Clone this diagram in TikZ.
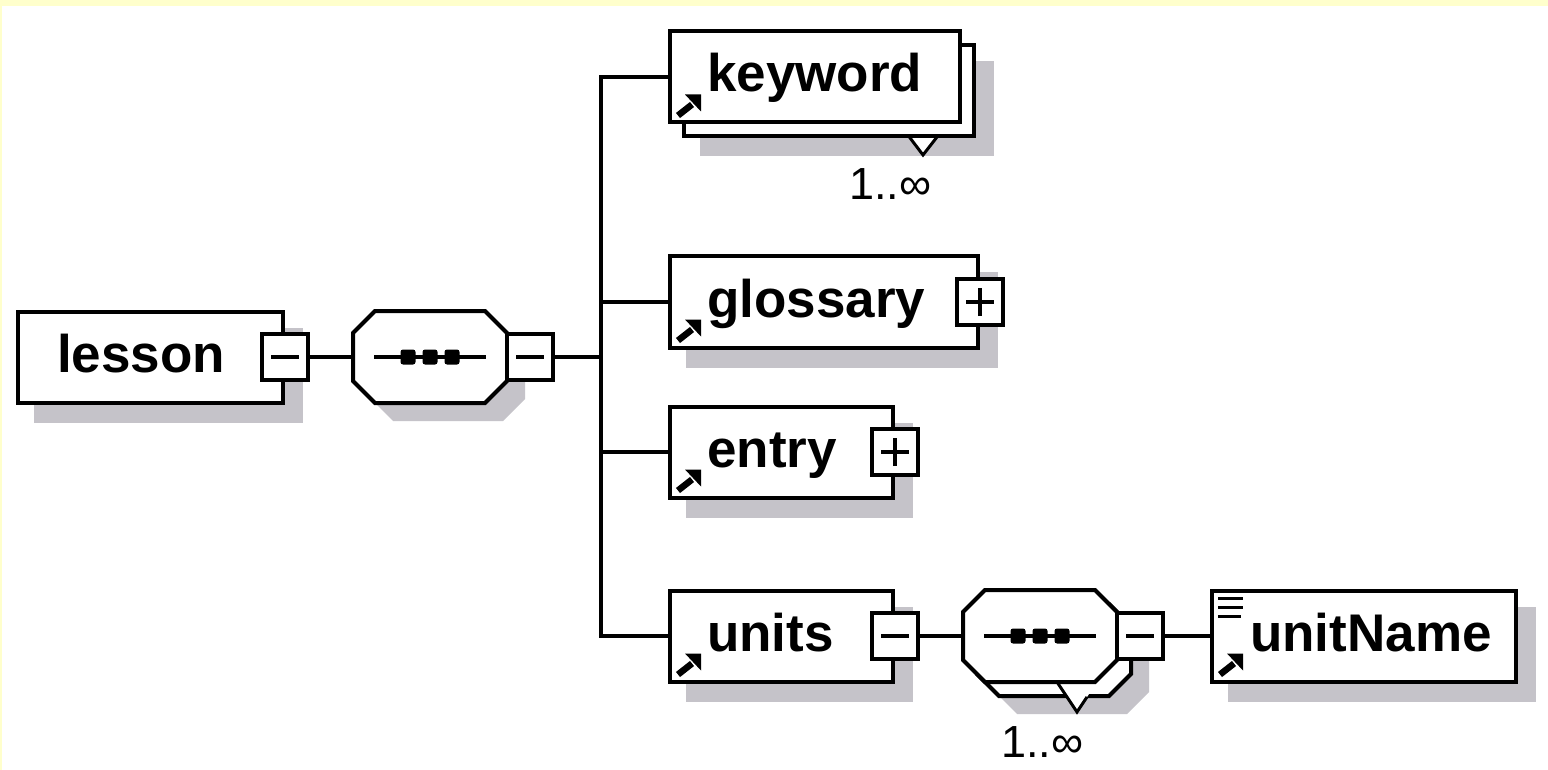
\documentclass[tikz,border=0pt]{standalone}
\usepackage{fontspec}
\setmainfont{Liberation Sans}
\definecolor{shadowgray}{RGB}{197,195,201}
\definecolor{paper}{RGB}{255,255,204}
\pgfdeclarelayer{bg}
\pgfdeclarelayer{shadowlayer}
\pgfdeclarelayer{backlayer}
\pgfsetlayers{bg,shadowlayer,backlayer,main}

% drop shadow behind a rectangular node
\newcommand\dropshadow[2]{%
  \begin{pgfonlayer}{shadowlayer}
    \fill[shadowgray] ([shift={(#2,#2)}]#1.north west) rectangle ([shift={(#2,#2)}]#1.south east);
  \end{pgfonlayer}}
% octagon outline of a sequence compositor, offset by (#2,#3)
\newcommand\octpath[3]{([shift={({#2-55},{#3-46})}]#1.center) -- ([shift={({#2+55},{#3-46})}]#1.center) -- ([shift={({#2+77},{#3-24})}]#1.center) -- ([shift={({#2+77},{#3+24})}]#1.center) -- ([shift={({#2+55},{#3+46})}]#1.center) -- ([shift={({#2-55},{#3+46})}]#1.center) -- ([shift={({#2-77},{#3+24})}]#1.center) -- ([shift={({#2-77},{#3-24})}]#1.center) -- cycle}
% the "sequence" glyph: a line with three dots
\newcommand\seqmark[1]{%
  \draw[line width=3.5pt] ([xshift=-56pt]#1.center) -- ([xshift=56pt]#1.center);
  \foreach \d in {-22,0,22}
    \fill[rounded corners=2.5pt] ([shift={({\d-7.5},-7.5)}]#1.center) rectangle ([shift={({\d+7.5},7.5)}]#1.center);}
% collapse / expand marks
\newcommand\minusmark[1]{\draw[line width=3.5pt] ([xshift=-14pt]#1.center) -- ([xshift=14pt]#1.center);}
\newcommand\plusmark[1]{\minusmark{#1}\draw[line width=3.5pt] ([yshift=-14pt]#1.center) -- ([yshift=14pt]#1.center);}
% reference arrow in the lower left corner of an element
\newcommand\refarrow[1]{%
  \begin{scope}[shift={(#1.south west)}]
    \draw[line width=6.5pt] (10,-9) -- (24,-20);
    \fill (17,-30) -- (33,-30) -- (33,-13) -- cycle;
  \end{scope}}

\begin{document}
\begin{tikzpicture}[x=1pt,y=-1pt,
  elem/.style={draw, line width=4pt, fill=white, rectangle, inner sep=0pt, minimum height=91pt},
  pmbox/.style={draw, line width=4pt, fill=white, rectangle, inner sep=0pt, minimum size=46pt},
  seqbox/.style={rectangle, inner sep=0pt, minimum width=154pt, minimum height=92pt},
  seqline/.style={draw, line width=4pt, fill=white},
  conn/.style={line width=3.5pt},
  elemtext/.style={font=\fontsize{53}{60}\selectfont\bfseries, anchor=base west, inner sep=0pt},
  occ/.style={font=\fontsize{45}{50}\selectfont, anchor=base west, inner sep=0pt},
]
\useasboundingbox (0,0) rectangle (1548,770);
\begin{pgfonlayer}{bg}
  \fill[white] (0,0) rectangle (1548,770);
  \fill[paper] (0,0) rectangle (1548,6);
  \fill[paper] (0,0) rectangle (2,770);
\end{pgfonlayer}

% root element
\node[elem, minimum width=265pt] (lesson) at (150.5,357) {};
\dropshadow{lesson}{18}
\node[elemtext] (lessonT) at (57,372) {lesson};
\node[pmbox] (lessonM) at (lesson.east) {};
\minusmark{lessonM}

% first sequence
\node[seqbox] (seq1) at (430,357) {};
\begin{pgfonlayer}{shadowlayer}
  \fill[shadowgray] \octpath{seq1}{18}{18};
\end{pgfonlayer}
\path[seqline] \octpath{seq1}{0}{0};
\seqmark{seq1}
\node[pmbox, anchor=west, outer sep=0pt] (seq1M) at (seq1.east) {};
\minusmark{seq1M}

\coordinate (trunk) at (601,357);

% keyword (1..unbounded)
\node[elem, minimum width=290pt] (keywordB) at (829,91) {};
\dropshadow{keywordB}{18}
\begin{pgfonlayer}{backlayer}
  \fill[white] (898,122) -- (948,122) -- (923,155) -- cycle;
  \draw[line width=3pt] (898,122) -- (923,155) -- (937,137);
\end{pgfonlayer}
\node[elem, minimum width=290pt] (keyword) at (815,77) {};
\node[elemtext] (keywordT) at (707,92) {keyword};
\refarrow{keyword}
\node[occ] (keywordO) at (849,200) {1..∞};

% glossary
\node[elem, minimum width=308pt] (glossary) at (824,302) {};
\dropshadow{glossary}{18}
\node[elemtext] (glossaryT) at (707,317) {glossary};
\refarrow{glossary}
\node[pmbox] (glossaryP) at (glossary.east) {};
\plusmark{glossaryP}

% entry
\node[elem, minimum width=223pt] (entry) at (781.5,452) {};
\dropshadow{entry}{18}
\node[elemtext] (entryT) at (707,467) {entry};
\refarrow{entry}
\node[pmbox] (entryP) at (entry.east) {};
\plusmark{entryP}

% units
\node[elem, minimum width=223pt] (units) at (781.5,636) {};
\dropshadow{units}{18}
\node[elemtext] (unitsT) at (707,651) {units};
\refarrow{units}
\node[pmbox] (unitsM) at (units.east) {};
\minusmark{unitsM}

% second sequence (1..unbounded)
\node[seqbox] (seq2) at (1040,636) {};
\begin{pgfonlayer}{shadowlayer}
  \fill[shadowgray] \octpath{seq2}{32}{32};
\end{pgfonlayer}
\begin{pgfonlayer}{backlayer}
  \path[seqline] \octpath{seq2}{14}{14};
  \fill[white] (1057,682) -- (1097,682) -- (1077,712) -- cycle;
  \draw[line width=3pt] (1057,682) -- (1077,712) -- (1087,697);
\end{pgfonlayer}
\path[seqline] \octpath{seq2}{0}{0};
\seqmark{seq2}
\node[pmbox, anchor=west, outer sep=0pt] (seq2M) at (seq2.east) {};
\minusmark{seq2M}
\node[occ] (seq2O) at (1001,757) {1..∞};

% unitName
\node[elem, minimum width=304pt] (unitName) at (1364,636) {};
\dropshadow{unitName}{18}
\node[elemtext] (unitNameT) at (1250,651) {unitName};
\refarrow{unitName}
\begin{scope}[shift={(unitName.north west)}]
  \draw[line width=3.5pt] (8,10) -- (33,10) (8,19) -- (33,19) (8,28) -- (31,28);
\end{scope}

% connectors
\draw[conn] (lessonM.east) -- (seq1.west);
\draw[conn] (seq1M.east) -- (trunk);
\draw[conn] (keyword.west) -| (trunk) |- (units.west);
\draw[conn] (glossary.west) -- (glossary.west -| trunk);
\draw[conn] (entry.west) -- (entry.west -| trunk);
\draw[conn] (unitsM.east) -- (seq2.west);
\draw[conn] (seq2M.east) -- (unitName.west);
\end{tikzpicture}
\end{document}
